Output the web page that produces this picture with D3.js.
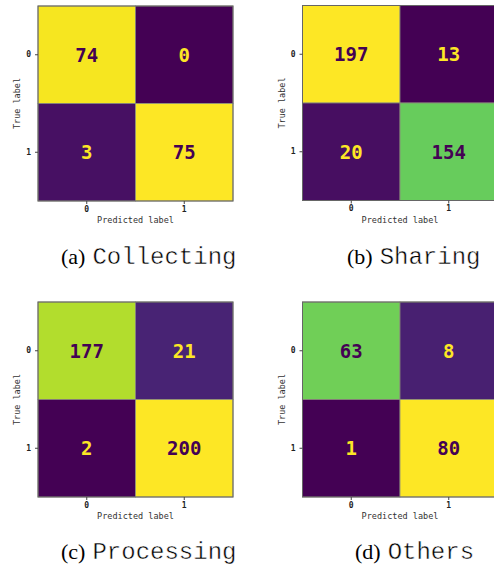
<!DOCTYPE html>
<html>
<head>
<meta charset="utf-8">
<script src="https://cdn.jsdelivr.net/npm/d3@7"></script>
<style>
  body { margin: 0; background: #fff; }
  svg { display: block; }
</style>
</head>
<body>
<svg id="chart"></svg>
<script>
const classes = ["0", "1"]

const collecting = [[74, 0], [3, 75]]
const sharing = [[197, 13], [20, 154]]
const processing = [[177, 21], [2, 200]]
const others = [[63, 8], [1, 80]]

const letters = ["(a)", "(b)", "(c)", "(d)"]
const names = ["Collecting", "Sharing", "Processing", "Others"]

const width = 494,
    height = 568,
    size = 195

const svg = d3.select("#chart")
    .attr("width", width)
    .attr("height", height)

// where each matrix sits and where its caption starts
const panels = [
    { m: collecting, x: 38, y: 6, cx: 61, cy: 264 },
    { m: sharing, x: 302.5, y: 5.5, cx: 347, cy: 264 },
    { m: processing, x: 38, y: 302, cx: 61, cy: 559 },
    { m: others, x: 302.5, y: 302, cx: 355, cy: 559 }
]

const x = d3.scaleBand().domain(classes).range([0, size])
const y = d3.scaleBand().domain(classes).range([0, size])

panels.forEach((p, k) => {
    const cells = []
    p.m.forEach((row, i) => row.forEach((v, j) => cells.push({ t: classes[i], p: classes[j], v: v })))

    const vals = cells.map(d => d.v)
    const lo = d3.min(vals), hi = d3.max(vals)
    const color = d3.scaleSequential(d3.interpolateViridis).domain([lo, hi])
    const thresh = (lo + hi) / 2

    const g = svg.append("g").attr("transform", "translate(" + p.x + "," + p.y + ")")

    g.selectAll("rect.cell")
        .data(cells)
        .join("rect")
        .attr("class", "cell")
        .attr("x", d => x(d.p))
        .attr("y", d => y(d.t))
        .attr("width", x.bandwidth())
        .attr("height", y.bandwidth())
        .attr("fill", d => color(d.v))
        .attr("stroke", "#8a8a7a")
        .attr("stroke-width", 0.8)

    g.selectAll("text.val")
        .data(cells)
        .join("text")
        .attr("class", "val")
        .attr("x", d => x(d.p) + x.bandwidth() / 2)
        .attr("y", d => y(d.t) + y.bandwidth() / 2)
        .attr("dy", "0.36em")
        .attr("text-anchor", "middle")
        .attr("font-family", "DejaVu Sans Mono")
        .attr("font-weight", "bold")
        .attr("font-size", 19)
        .attr("fill", d => d.v < thresh ? d3.interpolateViridis(1) : d3.interpolateViridis(0))
        .text(d => d.v)

    g.append("rect")
        .attr("width", size)
        .attr("height", size)
        .attr("fill", "none")
        .attr("stroke", "#666")
        .attr("stroke-width", 1)

    const ax = g.append("g")
        .attr("transform", "translate(0," + size + ")")
        .call(d3.axisBottom(x).tickSize(3).tickPadding(2))
    const ay = g.append("g")
        .call(d3.axisLeft(y).tickSize(3).tickPadding(4))

    ;[ax, ay].forEach(a => {
        a.select(".domain").remove()
        a.selectAll("line").attr("stroke", "#444")
        a.selectAll("text")
            .attr("font-family", "DejaVu Sans Mono")
            .attr("font-weight", "bold")
            .attr("font-size", 8)
            .attr("fill", "#222")
    })

    g.append("text")
        .attr("x", size / 2)
        .attr("y", size + 22)
        .attr("text-anchor", "middle")
        .attr("font-family", "DejaVu Sans Mono")
        .attr("font-size", 8.5)
        .attr("fill", "#333")
        .text("Predicted label")

    g.append("text")
        .attr("transform", "translate(-18," + size / 2 + ") rotate(-90)")
        .attr("text-anchor", "middle")
        .attr("font-family", "DejaVu Sans Mono")
        .attr("font-size", 8.5)
        .attr("fill", "#333")
        .text("True label")

    const cap = svg.append("text")
        .attr("x", p.cx)
        .attr("y", p.cy)
        .attr("fill", "#000")
    cap.append("tspan")
        .attr("font-family", "Liberation Serif")
        .attr("font-size", 22)
        .text(letters[k])
    cap.append("tspan")
        .attr("dx", 7)
        .attr("font-family", "'Nimbus Mono PS', 'Courier New', Courier, 'Liberation Mono', monospace")
        .attr("font-size", 24)
        .attr("stroke", "#fff")
        .attr("stroke-width", 0.45)
        .text(names[k])
})
</script>
</body>
</html>
